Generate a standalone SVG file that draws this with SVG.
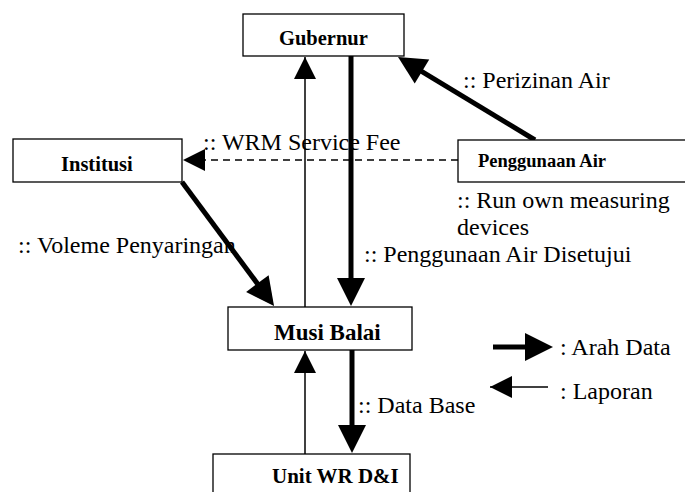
<svg xmlns="http://www.w3.org/2000/svg" width="685" height="492" viewBox="0 0 685 492">
<style>
.box{fill:#fff;stroke:#000;stroke-width:1.3}
.nb{font-family:"Liberation Serif","Times New Roman",serif;font-weight:bold;fill:#000}
.lb{font-family:"Liberation Serif","Times New Roman",serif;font-size:24px;fill:#000}
.thick{stroke:#000;stroke-width:5;fill:none}
.thin{stroke:#000;stroke-width:1.5;fill:none}
.dash{stroke:#000;stroke-width:1.5;fill:none;stroke-dasharray:7,5}
</style>
<defs>
<marker id="big" markerUnits="userSpaceOnUse" markerWidth="28" markerHeight="28" refX="14" refY="14" orient="auto" overflow="visible">
<path d="M0,0 L28,14 L0,28 Z" fill="#000"/>
</marker>
<marker id="small" markerUnits="userSpaceOnUse" markerWidth="22" markerHeight="22" refX="22" refY="11" orient="auto" overflow="visible">
<path d="M0,0 L22,11 L0,22 Z" fill="#000"/>
</marker>
</defs>
<rect width="685" height="492" fill="#fff"/>
<g id="connectors">
<line class="thin" x1="305" y1="307" x2="305" y2="57" marker-end="url(#small)"/>
<line class="thick" x1="351" y1="56" x2="351" y2="292" marker-end="url(#big)"/>
<line class="thick" x1="535" y1="140" x2="410" y2="64.3" marker-end="url(#big)"/>
<line class="thick" x1="182" y1="182" x2="265.7" y2="294.8" marker-end="url(#big)"/>
<line class="dash" x1="458" y1="160" x2="183" y2="160" marker-end="url(#small)"/>
<line class="thick" x1="352" y1="350" x2="352" y2="439" marker-end="url(#big)"/>
<line class="thin" x1="305" y1="454" x2="305" y2="351" marker-end="url(#small)"/>
<text class="lb" x="463" y="88">:: Perizinan Air</text>
<text class="lb" x="203" y="150">:: WRM Service Fee</text>
<text class="lb" x="457" y="208">:: Run own measuring</text>
<text class="lb" x="457" y="235">devices</text>
<text class="lb" x="18" y="253">:: Voleme Penyaringan</text>
<text class="lb" x="364" y="262">:: Penggunaan Air Disetujui</text>
<text class="lb" x="358" y="413">:: Data Base</text>
</g>
<g id="gubernur">
<rect class="box" x="243" y="14" width="161" height="42"/>
<text class="nb" x="279" y="45" font-size="20.5">Gubernur</text>
</g>
<g id="institusi">
<rect class="box" x="13" y="139" width="169" height="43"/>
<text class="nb" x="61" y="171" font-size="20.5">Institusi</text>
</g>
<g id="penggunaan-air">
<rect class="box" x="458" y="140" width="240" height="42"/>
<text class="nb" x="478" y="167" font-size="18.5">Penggunaan Air</text>
</g>
<g id="musi-balai">
<rect class="box" x="228" y="307" width="184" height="43"/>
<text class="nb" x="274" y="340" font-size="23">Musi Balai</text>
</g>
<g id="unit-wr">
<rect class="box" x="213" y="454" width="197" height="50"/>
<text class="nb" x="272" y="483" font-size="21">Unit WR D&amp;I</text>
</g>
<g id="legend">
<line class="thick" x1="493" y1="347" x2="539" y2="347" marker-end="url(#big)"/>
<text class="lb" x="560" y="355">: Arah Data</text>
<line class="thin" x1="548" y1="387" x2="490" y2="387" marker-end="url(#small)"/>
<text class="lb" x="560" y="399">: Laporan</text>
</g>
</svg>
